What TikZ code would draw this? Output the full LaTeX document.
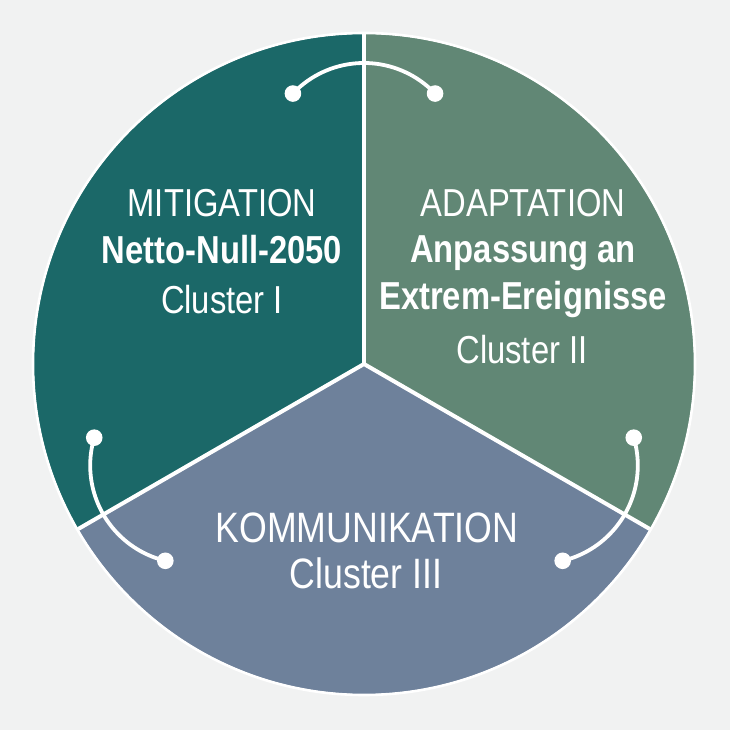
\documentclass[tikz,border=0pt]{standalone}
\usepackage{fontspec}
\setmainfont{Liberation Sans}[FakeStretch=0.84]
\usetikzlibrary{calc}
\definecolor{bgc}{HTML}{F1F2F2}
\definecolor{tealc}{HTML}{1B6868}
\definecolor{greenc}{HTML}{618775}
\definecolor{slatec}{HTML}{6E819B}
\tikzset{
  dot/.style={circle,fill=white,inner sep=0pt,minimum size=16.6pt},
  link/.style={draw=white,line width=3.8pt},
  divider/.style={draw=white,line width=4pt},
  lbl/.style={text=white,anchor=base,inner sep=0pt,font=\fontsize{39}{47}\selectfont},
  lblb/.style={lbl,font=\fontsize{39}{47}\selectfont\bfseries},
  lblk/.style={lbl,font=\fontsize{42.5}{50}\selectfont}
}
\begin{document}
\begin{tikzpicture}[x=1pt,y=1pt]
\fill[bgc] (-364,-366) rectangle (366,364);
\useasboundingbox (-364,-366) rectangle (366,364);
% sectors
\fill[tealc] (0,0) -- (90:330) arc[start angle=90,end angle=210,radius=330] -- cycle;
\fill[greenc] (0,0) -- (-30:330) arc[start angle=-30,end angle=90,radius=330] -- cycle;
\fill[slatec] (0,0) -- (210:330) arc[start angle=210,end angle=330,radius=330] -- cycle;
\draw[white,line width=2.6pt] (0,0) circle[radius=331];
\coordinate (o) at (0,0);
\coordinate (b1) at (90:330);
\coordinate (b2) at (210:330);
\coordinate (b3) at (330:330);
\draw[divider] (o) -- (b1);
\draw[divider] (b2) -- (o) -- (b3);
% link arcs
\coordinate (c1) at (90:203);
\coordinate (c2) at (210:203);
\coordinate (c3) at (330:203);
\node[dot] (d1a) at ($(c1)+(136.5:98)$) {};
\node[dot] (d1b) at ($(c1)+(43.5:98)$) {};
\node[dot] (d2a) at ($(c2)+(163.5:98)$) {};
\node[dot] (d2b) at ($(c2)+(256.5:98)$) {};
\node[dot] (d3a) at ($(c3)+(16.5:98)$) {};
\node[dot] (d3b) at ($(c3)+(-76.5:98)$) {};
\draw[link] (d1a.center) arc[start angle=136.5,end angle=43.5,radius=98];
\draw[link] (d2a.center) arc[start angle=163.5,end angle=256.5,radius=98];
\draw[link] (d3a.center) arc[start angle=16.5,end angle=-76.5,radius=98];
% labels
\node[lbl] (m1) at (-142,147) {MITIGATION};
\node[lblb] (m2) at (-142,100) {Netto-Null-2050};
\node[lbl] (m3) at (-142,50) {Cluster I};
\node[lbl] (a1) at (159,147) {ADAPTATION};
\node[lblb] (a2) at (159,101) {Anpassung an};
\node[lblb] (a3) at (159,54) {Extrem-Ereignisse};
\node[lbl] (a4) at (158,0) {Cluster II};
\node[lblk] (k1) at (3,-178) {KOMMUNIKATION};
\node[lblk] (k2) at (2,-224) {Cluster III};
\end{tikzpicture}
\end{document}
